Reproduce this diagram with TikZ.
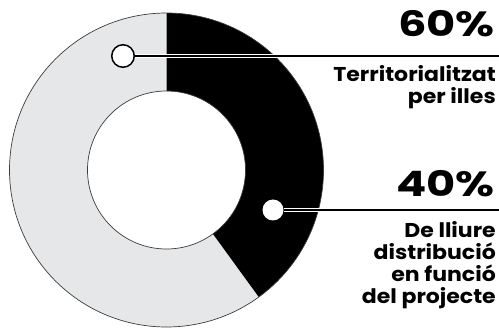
\documentclass[tikz,border=0pt]{standalone}
\usepackage{fontspec}
\setmainfont{Poppins}
\newfontfamily\pctfont{Poppins}[FakeStretch=1.28]
\newfontfamily\descfont{Poppins}[FakeStretch=1.1]
\usetikzlibrary{positioning}

\definecolor{sharegray}{HTML}{E6E7E8}
\definecolor{rimgray}{HTML}{3C3C3C}

\begin{document}
\begin{tikzpicture}[
    x=1pt, y=1pt,
    rim/.style={draw=rimgray, line width=0.7pt},
    marker/.style={circle, fill=white, inner sep=0pt},
    leader/.style={line width=1.8pt, preaction={draw=white, line width=4.2pt}},
    pct/.style={font=\pctfont\bfseries\fontsize{35}{35}\selectfont, inner sep=0pt, anchor=base east},
    desc/.style={font=\descfont\bfseries\fontsize{20}{22}\selectfont, align=right, inner sep=0pt, anchor=base east}
]
\useasboundingbox (0,0) rectangle (499,330);

% donut
\begin{scope}[shift={(166.5,160)}]
\fill[sharegray] (90:79) -- (90:157) arc[start angle=90, end angle=306, radius=157]
    -- (306:79) arc[start angle=306, end angle=90, radius=79] -- cycle;
\fill[black] (90:79) -- (90:157) arc[start angle=90, end angle=-54, radius=157]
    -- (-54:79) arc[start angle=-54, end angle=90, radius=79] -- cycle;
\draw[rim] (0,0) circle[radius=157];
\draw[rim] (0,0) circle[radius=79];
\end{scope}

% markers and leaders
\node[marker, draw=black, line width=1.5pt, minimum size=22.5pt] (m60) at (123,274) {};
\node[marker, minimum size=21pt] (m40) at (273,120) {};
\coordinate (e60) at (499,274);
\coordinate (e40) at (499,120);

\draw[leader] (m60.east) -- (e60);
\draw[leader] (m40.east) -- (e40);

% labels (base = last line)
\node[pct] (p60) at (495,293) {60\%};
\node[desc] (d60) at (496,226) {Territorialitzat\\per illes};
\node[pct] (p40) at (495,133) {40\%};
\node[desc] (d40) at (496,27) {De lliure\\distribució\\en funció\\del projecte};

\end{tikzpicture}
\end{document}
